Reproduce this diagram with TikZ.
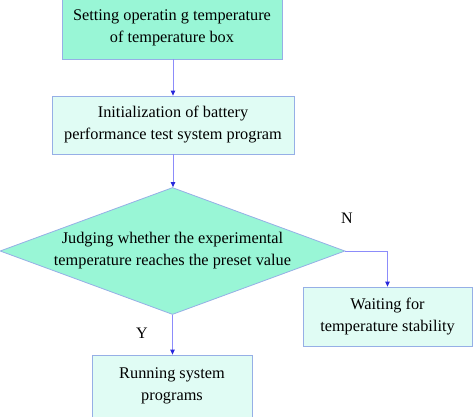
\documentclass[tikz,border=0pt]{standalone}
\usepackage{fontspec}
\setmainfont{Liberation Serif}
\usetikzlibrary{shapes.geometric,arrows.meta}
\definecolor{darkfill}{RGB}{153,246,214}
\definecolor{lightfill}{RGB}{224,252,244}
\definecolor{edgeblue}{RGB}{150,175,230}
\definecolor{linkblue}{RGB}{140,140,250}
\definecolor{tipblue}{RGB}{40,40,220}
\begin{document}
\begin{tikzpicture}[x=1pt,y=-1pt,
  boxbase/.style={rectangle, draw=edgeblue, line width=0.8pt, inner sep=0pt, align=center,
    font=\fontsize{16.3}{22}\selectfont},
  darkbox/.style={boxbase, fill=darkfill},
  lightbox/.style={boxbase, fill=lightfill},
  decision/.style={diamond, draw=edgeblue, line width=0.8pt, fill=darkfill, inner sep=0pt,
    aspect=2.72, align=center, font=\fontsize{16.3}{22}\selectfont},
  link/.style={draw=linkblue, line width=0.8pt, -{Triangle[length=5pt,width=4.5pt,color=tipblue]}},
  lbl/.style={font=\fontsize{16}{20}\selectfont, inner sep=0pt}]
\useasboundingbox (0,0) rectangle (474,416);
\node[darkbox, minimum width=220pt, minimum height=62pt] (b1) at (172,28)
  {Setting operatin\ g temperature\\of temperature box};
\node[lightbox, minimum width=242pt, minimum height=58pt] (b2) at (173,125)
  {Initialization of battery\\performance test system program};
\node[decision, minimum width=345pt, minimum height=127pt] (d) at (172.5,251)
  {Judging whether the experimental\\temperature reaches the preset value};
\node[lightbox, minimum width=169pt, minimum height=59pt] (w) at (387.5,316.5)
  {Waiting for\\temperature stability};
\node[lightbox, minimum width=160pt, minimum height=62pt] (r) at (172,386)
  {Running system\\programs};
\node[lbl] (n) at (347,218) {N};
\node[lbl] (y) at (142,333) {Y};
\coordinate (c) at (w.north |- d.east);
\draw[link] (b1.south -| b2.north) -- (b2.north);
\draw[link] (b2.south) -- (b2.south |- d.north);
\draw[link] (d.east) -- (c) -- (w.north);
\draw[link] (d.south) -- (d.south |- r.north);
\end{tikzpicture}
\end{document}
